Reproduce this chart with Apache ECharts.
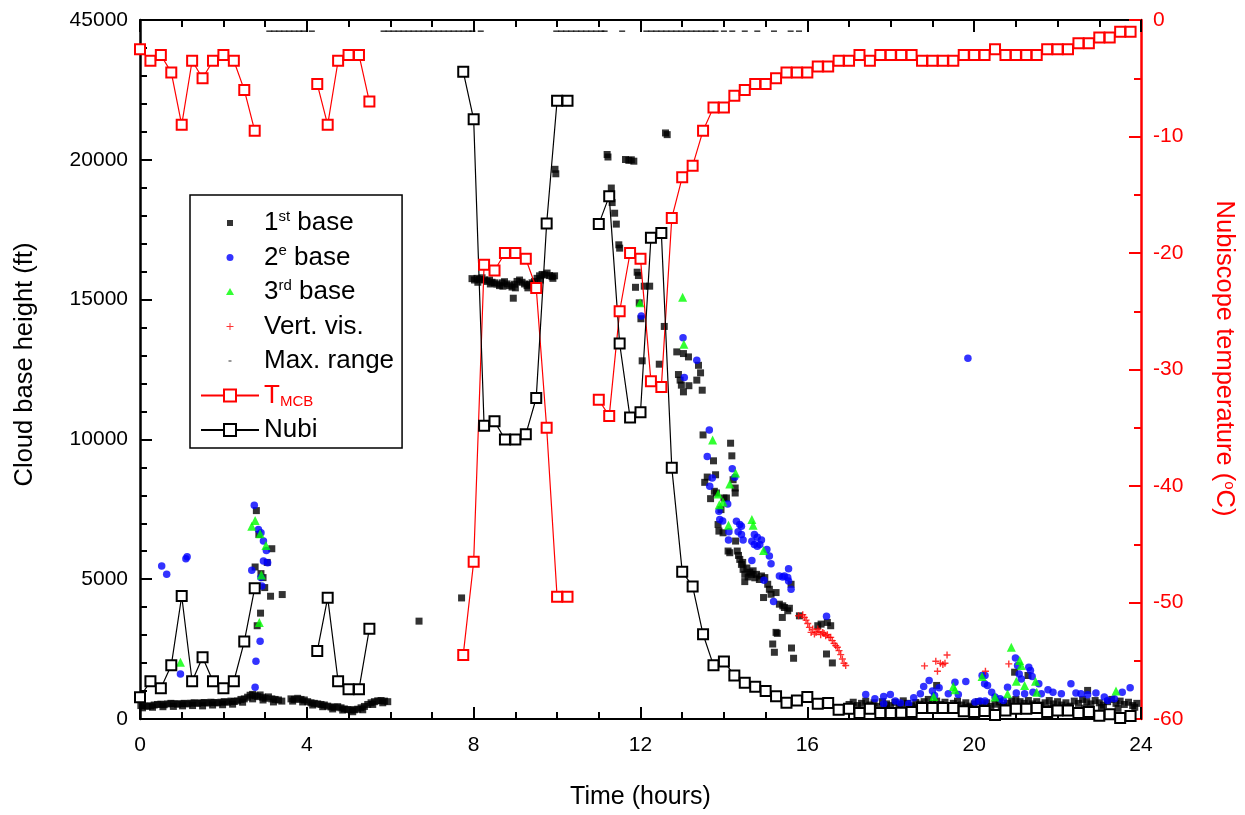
<!DOCTYPE html>
<html><head><meta charset="utf-8">
<script src="https://cdn.jsdelivr.net/npm/echarts@6/dist/echarts.min.js"></script>
<style>html,body{margin:0;padding:0;background:#fff;overflow:hidden}#c{width:1245px;height:815px}</style>
</head><body><div id="c"></div>
<script>
// ---------- DATA (hours, value) ----------
const xTicks = [0, 4, 8, 12, 16, 20, 24];
const leftTickLabels = {0:'0', 5000:'5000', 10000:'10000', 15000:'15000', 20000:'20000', 25000:'45000'};

const tmcbSeg1 = [[0,-2.5],[0.25,-3.5],[0.5,-3.0],[0.75,-4.5],[1.0,-9.0],[1.25,-3.5],[1.5,-5.0],[1.75,-3.5],[2.0,-3.0],[2.25,-3.5],[2.5,-6.0],[2.75,-9.5]];
const tmcbSeg2 = [[4.25,-5.5],[4.5,-9.0],[4.75,-3.5],[5.0,-3.0],[5.25,-3.0],[5.5,-7.0]];
const tmcbSeg3 = [[7.75,-54.5],[8.0,-46.5],[8.25,-21.0],[8.5,-21.5],[8.75,-20.0],[9.0,-20.0],[9.25,-20.5],[9.5,-23.0],[9.75,-35.0],[10.0,-49.5],[10.25,-49.5]];
const tmcbSeg4 = [[11.0,-32.6],[11.25,-34.0],[11.5,-25.0],[11.75,-20.0],[12.0,-20.5],[12.25,-31.0],[12.5,-31.5],[12.75,-17.0],[13.0,-13.5],[13.25,-12.5],[13.5,-9.5],[13.75,-7.5],[14.0,-7.5],[14.25,-6.5],[14.5,-6.0],[14.75,-5.5],[15.0,-5.5],[15.25,-5.0],[15.5,-4.5],[15.75,-4.5],[16.0,-4.5],[16.25,-4.0],[16.5,-4.0],[16.75,-3.5],[17.0,-3.5],[17.25,-3.0],[17.5,-3.5],[17.75,-3.0],[18.0,-3.0],[18.25,-3.0],[18.5,-3.0],[18.75,-3.5],[19.0,-3.5],[19.25,-3.5],[19.5,-3.5],[19.75,-3.0],[20.0,-3.0],[20.25,-3.0],[20.5,-2.5],[20.75,-3.0],[21.0,-3.0],[21.25,-3.0],[21.5,-3.0],[21.75,-2.5],[22.0,-2.5],[22.25,-2.5],[22.5,-2.0],[22.75,-2.0],[23.0,-1.5],[23.25,-1.5],[23.5,-1.0],[23.75,-1.0]];

const nubiSeg1 = [[0,780],[0.25,1350],[0.5,1100],[0.75,1920],[1.0,4400],[1.25,1350],[1.5,2210],[1.75,1350],[2.0,1100],[2.25,1350],[2.5,2770],[2.75,4680]];
const nubiSeg2 = [[4.25,2430],[4.5,4340],[4.75,1350],[5.0,1060],[5.25,1060],[5.5,3230]];
const nubiSeg3 = [[7.75,23150],[8.0,21450],[8.25,10490],[8.5,10650],[8.75,10000],[9.0,10000],[9.25,10180],[9.5,11480],[9.75,17720],[10.0,22110],[10.25,22110]];
const nubiSeg4 = [[11.0,17700],[11.25,18700],[11.5,13430],[11.75,10780],[12.0,10970],[12.25,17210],[12.5,17380],[12.75,8990],[13.0,5270],[13.25,4740],[13.5,3030],[13.75,1920],[14.0,2060],[14.25,1560],[14.5,1300],[14.75,1150],[15.0,1000],[15.25,810],[15.5,580],[15.75,665],[16.0,783],[16.25,546],[16.5,570],[16.75,332],[17.0,368],[17.25,214],[17.5,368],[17.75,214],[18.0,214],[18.25,225],[18.5,249],[18.75,392],[19.0,392],[19.25,392],[19.5,392],[19.75,273],[20.0,249],[20.25,285],[20.5,142],[20.75,308],[21.0,368],[21.25,368],[21.5,392],[21.75,249],[22.0,308],[22.25,308],[22.5,214],[22.75,249],[23.0,119],[23.25,166],[23.5,36],[23.75,107]];

const firstBase = [
[0.02,480],[0.1,470],[0.18,455],[0.26,470],[0.34,500],[0.42,520],[0.5,530],[0.58,510],[0.66,540],[0.74,560],[0.82,550],[0.9,530],[0.98,545],[1.06,560],[1.14,540],[1.22,565],[1.3,580],[1.38,560],[1.46,575],[1.54,590],[1.62,570],[1.7,600],[1.78,590],[1.86,575],[1.94,600],[2.02,620],[2.1,600],[2.18,640],[2.26,625],[2.34,650],[2.42,700],[2.5,720],[2.58,780],[2.64,850],[2.7,880],[2.76,830],[2.82,800],[2.88,860],[2.94,780],[3.0,740],[3.08,790],[3.16,720],[3.24,700],[3.32,680],[3.4,640],
[0.06,400],[0.3,420],[0.55,440],[0.8,450],[1.02,470],[1.26,480],[1.5,470],[1.74,500],[1.98,510],[2.22,530],[2.46,600],[2.7,720],[2.95,680],[3.2,610],
[3.62,720],[3.7,700],[3.78,740],[3.86,700],[3.94,680],[4.02,620],[4.1,580],[4.18,560],[4.26,540],[4.34,520],[4.42,500],[4.5,460],[4.58,430],[4.66,420],[4.74,440],[4.82,400],[4.9,360],[4.98,340],[5.06,320],[5.14,330],[5.22,350],[5.3,400],[5.38,450],[5.46,520],[5.54,580],[5.62,620],[5.7,650],[5.78,660],[5.86,640],[5.94,620],
[3.66,640],[3.9,610],[4.14,500],[4.38,440],[4.62,360],[4.86,320],[5.1,260],[5.34,330],[5.58,520],[5.82,580],
[2.79,7453],[2.85,6600],[2.9,5200],[3.05,5600],[3.16,6090],[2.76,5437],[2.95,5057],[2.99,4700],[3.13,4391],[3.41,4451],[2.89,3786],[2.81,3336],
[6.69,3500],[7.71,4330],
[7.96,15750],[8.02,15700],[8.08,15760],[8.14,15720],[8.2,15780],[8.26,15700],[8.32,15650],[8.38,15700],[8.44,15620],[8.5,15600],[8.56,15550],[8.62,15500],[8.68,15600],[8.74,15640],[8.8,15560],[8.86,15500],[8.92,15450],[8.98,15550],[9.04,15650],[9.1,15700],[9.16,15620],[9.22,15560],[9.28,15500],[9.34,15540],[9.4,15600],[9.46,15650],[9.52,15760],[9.58,15850],[9.64,15900],[9.7,15880],[9.76,15950],[9.82,15860],[9.88,15820],[9.94,15850],[8.95,15050],[9.95,19660],[9.97,19500],
[8.1,15620],[8.4,15560],[8.7,15480],[9.0,15420],[9.3,15420],[9.6,15700],[9.9,15760],
[11.2,20190],[11.22,20100],[11.64,20010],[11.72,19980],[11.84,19950],[11.78,20000],[12.6,20960],[12.64,20900],[11.3,18990],[11.32,18470],[11.38,18090],[11.42,17700],[11.48,16960],[11.5,16840],[11.92,15980],[11.95,15860],[11.88,15440],[12.09,15480],[12.22,15480],[11.97,14885],[12.01,14315],[12.57,14040],[12.04,12810],[12.45,12690],[12.87,13130],[13.03,13070],[13.15,12950],[13.39,12650],[13.44,12380],[12.91,12320],[12.95,12120],[12.98,11940],[13.03,11700],[13.16,11920],[13.35,12120],[13.48,11760],
[13.5,10160],[14.16,9864],[14.19,9412],[13.75,9234],[13.8,8735],[13.6,8653],[13.54,8464],[13.68,7881],[14.22,8557],[14.27,8262],[14.27,8083],[13.77,8144],[13.82,8083],[14.0,7905],[14.06,7905],[13.93,7489],[13.86,6955],[13.88,6720],[13.98,6660],[14.1,6007],[14.14,5947],[14.28,6364],[14.32,6007],[14.38,5708],[14.42,5530],[14.46,5352],[14.5,5174],[14.58,5081],[14.66,5174],[14.78,5174],[14.9,5115],[14.98,5057],[14.5,4914],[15.05,4818],[15.09,4640],[15.13,4462],[14.95,4344],[15.33,4106],[15.45,3988],[15.53,3871],[15.4,3632],[15.28,3062],[15.17,2682],[15.21,2386],[15.62,2539],[15.67,2172],[16.25,3336],[16.33,3394],[16.48,3454],[16.56,3336],[16.46,2325],[16.6,2005],[15.81,3690],[15.61,4818],[15.25,4522],[15.25,3098],[15.41,4047],[15.57,3960],[14.62,5250],[14.7,5300],[14.74,5050],[14.85,4990],[14.55,5400],[14.45,5600],[14.35,5850],
[17.0,520],[17.1,600],[17.2,480],[17.3,560],[17.4,640],[17.5,500],[17.6,580],[17.7,450],[17.8,620],[17.9,540],[18.0,480],[18.1,600],[18.2,520],[18.3,650],[18.4,560],[18.5,470],[18.6,590],[18.7,530],[18.8,620],[18.9,700],[19.0,560],[19.1,640],[19.2,520],[19.3,600],[19.4,480],[19.5,560],[19.6,640],[19.7,500],[19.8,580],[19.9,460],[20.0,540],[20.1,620],[20.2,500],[20.3,580],[20.4,450],[20.5,530],[20.6,610],[20.7,480],[20.8,560],[20.9,640],[21.0,700],[21.1,620],[21.2,560],[21.3,660],[21.4,540],[21.5,620],[21.6,500],[21.7,580],[21.8,660],[21.9,540],[22.0,620],[22.1,500],[22.2,580],[22.3,460],[22.4,640],[22.5,560],[22.6,700],[22.7,620],[22.8,540],[22.9,660],[23.0,580],[23.1,500],[23.2,620],[23.3,700],[23.4,560],[23.5,640],[23.6,520],[23.7,600],[23.8,480],[23.9,560],
[17.05,400],[17.45,420],[17.85,380],[18.25,430],[18.65,400],[19.05,420],[19.45,390],[19.85,410],[20.25,380],[20.65,420],[21.05,400],[21.45,430],[21.85,400],[22.25,420],[22.65,390],[23.05,410],[23.45,380],[23.85,420],
[19.1,1200],[20.97,1674],[21.29,1556],[22.72,1022]
];

const secondBase = [
[0.52,5473],[0.64,5174],[1.1,5733],[1.13,5800],[0.97,1613],
[2.74,7645],[2.84,6777],[2.9,6660],[2.96,6364],[3.03,6030],[3.06,5590],[2.96,5650],[2.68,5316],[2.9,5057],[2.92,4760],[2.88,2778],[2.78,2065],[2.76,1140],
[12.02,14410],[13.02,13640],[13.35,12830],[13.05,12215],
[13.65,10340],[13.6,9390],[14.2,8950],[14.26,8642],[13.72,8617],[13.66,8322],[14.09,7692],[13.88,7432],[13.9,7132],[13.97,7086],[14.3,7076],[14.38,6955],[14.42,6897],[14.12,6695],[14.11,6399],[14.34,6695],[14.42,6599],[14.46,6399],[14.73,6600],[14.8,6500],[14.67,6360],[14.73,6240],[14.8,6180],[14.86,6240],[14.9,6400],[15.03,6064],[15.09,5830],[15.13,5555],[14.67,5673],[15.55,5377],[15.41,5081],[15.53,5057],[15.61,4640],[14.96,4960],[15.19,4202],[16.46,3679],[15.33,5117],[15.45,5117],[15.55,4939],
[17.4,880],[17.62,723],[17.83,808],[17.83,545],[17.99,880],[18.11,641],[18.23,570],[18.43,545],[18.55,758],[18.71,900],[18.79,1164],[18.92,1378],[19.0,997],[19.05,844],[19.16,1115],[19.38,900],[19.54,1318],[19.62,880],[19.8,1342],[20.02,605],[20.14,641],[20.26,641],[20.19,1556],[20.26,1556],[20.25,1257],[20.32,1200],[20.42,961],[20.5,783],[20.62,723],[20.7,666],[20.8,1140],[20.99,2183],[21.04,1912],[21.08,1613],[21.13,1435],[21.31,1852],[21.35,1734],[21.39,1520],[21.55,1257],
[21.01,926],[21.21,900],[21.41,961],[21.61,900],[21.77,1044],[21.89,961],[22.09,900],[22.32,1257],[22.44,926],[22.56,900],[22.72,866],[22.92,926],[23.12,783],[23.2,666],[23.36,723],[23.55,961],[23.74,1115],
[19.85,12900]
];

const thirdBase = [
[0.97,2030],[2.76,7097],[2.68,6897],[2.88,6623],[3.02,6207],[2.91,5153],[2.86,3454],
[11.99,14885],[13.01,15088],[13.04,13400],
[13.73,9982],[14.28,8796],[14.14,8404],[13.86,8048],[13.98,7763],[13.89,7667],[14.11,6932],[14.67,7132],[14.7,6932],[14.95,6030],
[19.03,808],[19.5,1164],[19.54,1044],[20.19,1520],[20.5,783],[20.8,900],[20.89,2564],[21.09,2090],[21.13,1912],[21.01,1353],[21.21,1200],[21.47,1353],[21.5,961],[23.4,997]
];

const vertVis = [
[15.79,3692],[15.89,3728],[15.93,3632],[15.97,3537],[16.01,3418],[16.05,3276],[16.09,3098],[16.13,3216],[16.17,3038],[16.21,3098],[16.25,3216],[16.28,3134],[16.32,3016],[16.37,3098],[16.4,3062],[16.44,2980],[16.48,3016],[16.52,2920],[16.56,2920],[16.6,2802],[16.64,2706],[16.68,2623],[16.72,2564],[16.76,2446],[16.8,2304],[16.84,2147],[16.88,1994],[16.92,1912],
[18.81,1899],[19.08,2065],[19.12,1709],[19.19,1994],[19.25,1948],[19.3,1994],[19.35,2290],[20.27,1709],[20.83,1970]
];

const maxRange = [
[3.10,24600],[3.22,24600],[3.34,24600],[3.46,24600],[3.58,24600],[3.70,24600],[3.82,24600],[3.92,24600],[4.12,24600],
[5.84,24600],[5.96,24600],[6.08,24600],[6.20,24600],[6.32,24600],[6.44,24600],[6.56,24600],[6.68,24600],[6.80,24600],[6.92,24600],[7.04,24600],[7.16,24600],[7.28,24600],[7.40,24600],[7.52,24600],[7.64,24600],[7.76,24600],[7.88,24600],[7.97,24600],[8.17,24600],
[9.98,24600],[10.10,24600],[10.22,24600],[10.34,24600],[10.46,24600],[10.58,24600],[10.70,24600],[10.82,24600],[10.94,24600],[11.06,24600],[11.14,24600],[11.56,24600],
[12.14,24600],[12.26,24600],[12.38,24600],[12.50,24600],[12.62,24600],[12.74,24600],[12.86,24600],[12.98,24600],[13.10,24600],[13.22,24600],[13.34,24600],[13.46,24600],[13.58,24600],[13.70,24600],[13.80,24600],
[14.0,24600],[14.2,24600],[14.5,24600],[14.8,24600],[15.2,24600],[15.6,24600],[15.8,24600]
];

// ---------- CHART ----------
function joinSegs(segs){
  const out = [];
  segs.forEach((s, i) => {
    if (i > 0) out.push([(segs[i-1][segs[i-1].length-1][0] + s[0][0]) / 2, '-']);
    s.forEach(p => out.push(p));
  });
  return out;
}
const FONT = '"Liberation Sans", Arial, sans-serif';
const PLUS = 'path://M4,0h2v10h-2zM0,4h10v2h-10z';
const legendName = {
  '1st base': '1{sup|st} base', '2e base': '2{sup|e} base', '3rd base': '3{sup|rd} base',
  'Vert. vis.': 'Vert. vis.', 'Max. range': 'Max. range', 'TMCB': '{red|T}{sub|MCB}', 'Nubi': 'Nubi'
};

const chart = echarts.init(document.getElementById('c'), null, {renderer: 'canvas', width: 1245, height: 815});
const axisCommon = {
  type: 'value', min: 0, max: 24, interval: 4,
  axisLine: {onZero: false, lineStyle: {color: '#000', width: 2}},
  axisTick: {inside: true, length: 12, lineStyle: {color: '#000', width: 2}},
  minorTick: {show: true, splitNumber: 4, length: 7, lineStyle: {color: '#000', width: 2}},
  splitLine: {show: false}
};
chart.setOption({
  animation: false,
  backgroundColor: '#fff',
  grid: {left: 140, right: 98, top: 20, bottom: 93, containLabel: false},
  xAxis: [
    Object.assign({}, axisCommon, {
      position: 'bottom',
      axisLabel: {fontSize: 21, color: '#000', fontFamily: FONT, margin: 16},
      name: 'Time (hours)', nameLocation: 'middle', nameGap: 66,
      nameTextStyle: {fontSize: 25, color: '#000', fontFamily: FONT}
    }),
    Object.assign({}, axisCommon, {position: 'top', axisLabel: {show: false}})
  ],
  yAxis: [
    {
      type: 'value', min: 0, max: 25000, interval: 5000, position: 'left',
      axisLine: {show: true, onZero: false, lineStyle: {color: '#000', width: 2.5}},
      axisTick: {inside: true, length: 12, lineStyle: {color: '#000', width: 2}},
      minorTick: {show: true, splitNumber: 5, length: 7, lineStyle: {color: '#000', width: 2}},
      splitLine: {show: false},
      axisLabel: {fontSize: 21, color: '#000', fontFamily: FONT, margin: 12,
        formatter: v => leftTickLabels[v] !== undefined ? leftTickLabels[v] : ''},
      name: 'Cloud base height (ft)', nameLocation: 'middle', nameGap: 102, nameRotate: 90,
      nameTextStyle: {fontSize: 25.5, color: '#000', fontFamily: FONT, padding: [0, 0, 0, 10]}
    },
    {
      type: 'value', min: -60, max: 0, interval: 10, position: 'right',
      axisLine: {show: true, onZero: false, lineStyle: {color: '#ff0000', width: 2.5}},
      axisTick: {inside: true, length: 12, lineStyle: {color: '#ff0000', width: 2}},
      minorTick: {show: true, splitNumber: 2, length: 7, lineStyle: {color: '#ff0000', width: 2}},
      splitLine: {show: false},
      axisLabel: {fontSize: 21, color: '#ff0000', fontFamily: FONT, margin: 12},
      name: 'Nubiscope temperature ({sup|o}C)', nameLocation: 'middle', nameGap: 70, nameRotate: -90,
      nameTextStyle: {fontSize: 25.5, color: '#ff0000', fontFamily: FONT, padding: [0, 22, 0, 0],
        rich: {sup: {fontSize: 15, color: '#ff0000', fontFamily: FONT, verticalAlign: 'top', lineHeight: 26}}}
    }
  ],
  legend: {
    left: 190, top: 195, orient: 'vertical',
    backgroundColor: '#fff', borderColor: '#000', borderWidth: 1.5,
    padding: [14, 8, 4, 10], itemWidth: 58, itemHeight: 15, itemGap: 6.5,
    textStyle: {fontSize: 26, color: '#000', fontFamily: FONT, lineHeight: 28,
      rich: {
        sup: {fontSize: 15, color: '#000', fontFamily: FONT, verticalAlign: 'top', lineHeight: 22},
        red: {fontSize: 26, color: '#ff0000', fontFamily: FONT, lineHeight: 28},
        sub: {fontSize: 15, color: '#ff0000', fontFamily: FONT, verticalAlign: 'bottom', lineHeight: 12}
      }},
    formatter: n => legendName[n],
    data: [
      {name: '1st base', icon: 'path://M0,0M15,15M4.5,4.5h6v6h-6z'},
      {name: '2e base', icon: 'path://M0,0M15,15M11,7.5A3.5,3.5,0,1,1,4,7.5A3.5,3.5,0,1,1,11,7.5z'},
      {name: '3rd base', icon: 'path://M0,0M15,15M7.5,3.5L11.5,10.5H3.5z'},
      {name: 'Vert. vis.', icon: 'path://M0,0M15,15M7,4h1v7h-1zM4,7h7v1h-7z'},
      {name: 'Max. range', icon: 'path://M0,0M15,15M6,7h3v1h-3z'},
      {name: 'TMCB'},
      {name: 'Nubi'}
    ]
  },
  series: [
    {name: '1st base', type: 'scatter', data: firstBase, symbol: 'rect', symbolSize: 7, itemStyle: {color: '#000'}},
    {name: '2e base', type: 'scatter', data: secondBase, symbol: 'circle', symbolSize: 7.5, itemStyle: {color: '#0000ff'}},
    {name: '3rd base', type: 'scatter', data: thirdBase, symbol: 'triangle', symbolSize: 9, itemStyle: {color: '#00ff00'}},
    {name: 'Vert. vis.', type: 'scatter', data: vertVis, symbol: PLUS, symbolSize: 7, itemStyle: {color: '#ff0000'}},
    {name: 'Max. range', type: 'scatter', data: maxRange, symbol: 'rect', symbolSize: [6, 1.5], itemStyle: {color: '#000'}},
    {name: 'TMCB', type: 'line', yAxisIndex: 1, data: joinSegs([tmcbSeg1, tmcbSeg2, tmcbSeg3, tmcbSeg4]),
      symbol: 'emptyRect', symbolSize: 10, connectNulls: false,
      lineStyle: {color: '#ff0000', width: 1.2}, itemStyle: {color: '#ff0000', borderWidth: 1.2}},
    {name: 'Nubi', type: 'line', yAxisIndex: 0, data: joinSegs([nubiSeg1, nubiSeg2, nubiSeg3, nubiSeg4]),
      symbol: 'emptyRect', symbolSize: 10, connectNulls: false,
      lineStyle: {color: '#000', width: 1.2}, itemStyle: {color: '#000', borderWidth: 1.2}}
  ]
});
</script>
</body></html>
